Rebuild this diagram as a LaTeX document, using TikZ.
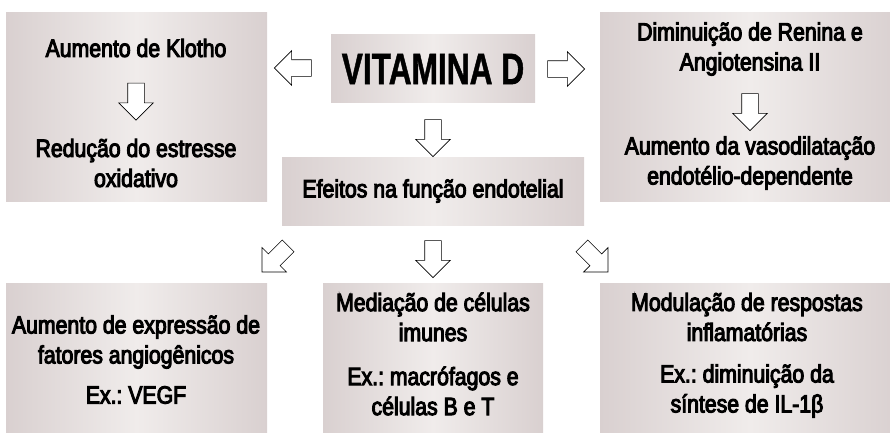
\documentclass[tikz,border=0pt]{standalone}
\usepackage{fontspec}
\setmainfont{Liberation Sans}[FakeStretch=0.85,FakeBold=4]
\newfontfamily\titlefont{Liberation Sans Bold}[FakeStretch=0.72,FakeBold=1]
\usepackage{tikz}
\usetikzlibrary{shapes.arrows}
\definecolor{boxedge}{RGB}{217,208,208}
\definecolor{boxmid}{RGB}{240,236,235}
\frenchspacing

\begin{document}
\begin{tikzpicture}[x=1pt, y=-1pt,
	caixa/.style={inner sep=0pt, left color=boxedge, right color=boxedge, middle color=boxmid},
	seta/.style={single arrow, draw=black, fill=white, line width=.6pt, inner xsep=0pt, inner ysep=8pt, minimum height=37pt, single arrow head extend=9pt},
	texto/.style={align=center, inner sep=0pt, font=\fontsize{25}{30}\selectfont}]
	\useasboundingbox (0,0) rectangle (890,432);
	% caixas
	\node[caixa, minimum width=261pt, minimum height=189pt] (klothobox) at (136.5,106.5) {};
	\node[caixa, minimum width=204pt, minimum height=68pt] (vitbox) at (433,68) {};
	\node[caixa, minimum width=300pt, minimum height=189pt] (reninbox) at (750,106.5) {};
	\node[caixa, minimum width=302pt, minimum height=68pt] (efeitosbox) at (433,191) {};
	\node[caixa, minimum width=261pt, minimum height=160pt] (vegfbox) at (136.5,363) {};
	\node[caixa, minimum width=220pt, minimum height=160pt] (imunebox) at (433,363) {};
	\node[caixa, minimum width=300pt, minimum height=160pt] (inflbox) at (750,363) {};
	% textos
	\node[font=\titlefont\fontsize{44}{44}\selectfont, inner sep=0pt] (vit) at (433,69) {VITAMINA D};
	\node[texto] (klotho) at (136,48) {Aumento de Klotho};
	\node[texto] (reducao) at (136,163) {Redução do estresse\\oxidativo};
	\node[texto] (renina) at (750,49) {Diminuição de Renina e\\Angiotensina II};
	\node[texto] (vaso) at (750,163) {Aumento da vasodilatação\\endotélio-dependente};
	\node[texto] (efeitos) at (433,191) {Efeitos na função endotelial};
	\node[texto] (angio) at (136,342) {Aumento de expressão de\\fatores angiogênicos};
	\node[texto] (vegf) at (136,395) {Ex.: VEGF};
	\node[texto] (imune) at (433,317) {Mediação de células\\imunes};
	\node[texto] (macro) at (433,391) {Ex.: macrófagos e\\células B e T};
	\node[texto] (infl) at (747,317) {Modulação de respostas\\inflamatórias};
	\node[texto] (il) at (747,391) {Ex.: diminuição da\\síntese de IL-1β};
	% setas
	\node[seta, rotate=180] (s1) at (297,68) {};
	\node[seta] (s2) at (562,69) {};
	\node[seta, rotate=-90] (s3) at (136,97.5) {};
	\node[seta, rotate=-90] (s4) at (750,108) {};
	\node[seta, rotate=-90] (s5) at (433,134) {};
	\node[seta, rotate=-135] (s6) at (278,256) {};
	\node[seta, rotate=-90] (s7) at (433,255) {};
	\node[seta, rotate=-45] (s8) at (592,256) {};
\end{tikzpicture}
\end{document}
